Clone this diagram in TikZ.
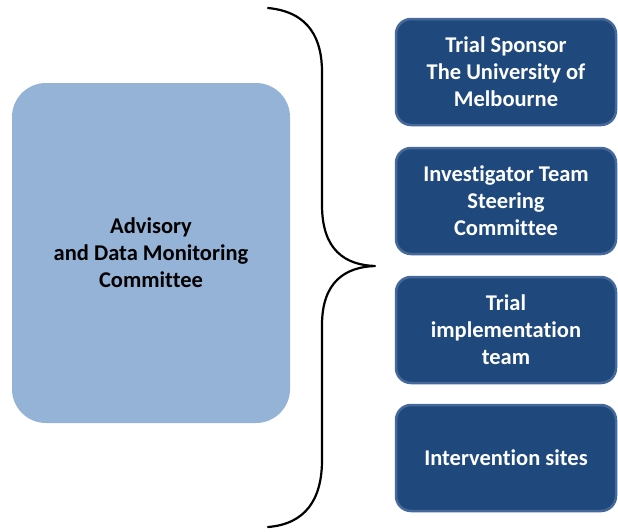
\documentclass[tikz,border=0pt]{standalone}
\usepackage{fontspec}
\setmainfont[Ligatures=NoCommon]{Carlito}
\definecolor{paleblue}{HTML}{95B3D7}
\definecolor{navy}{HTML}{1F497D}
\definecolor{navyedge}{HTML}{46699A}
\tikzset{
  roundbox/.style={rounded corners=34pt,fill=paleblue,minimum width=278pt,
    minimum height=340pt,align=center,font=\bfseries\fontsize{22.5}{27}\selectfont},
  teambox/.style={rounded corners=15pt,fill=navy,draw=navyedge,line width=2.5pt,
    minimum width=220pt,minimum height=106pt,align=center,text=white,
    font=\bfseries\fontsize{22.5}{27}\selectfont}
}
\begin{document}
\begin{tikzpicture}[x=1pt,y=-1pt]
  \useasboundingbox (0,0) rectangle (618,531);
  \node[roundbox] (advisory) at (151,253) {Advisory\\and Data Monitoring\\Committee};

  \node[teambox] (sponsor) at (506,72) {Trial Sponsor\\The University of\\Melbourne};
  \node[teambox] (steering) at (506,201) {Investigator Team\\Steering\\Committee};
  \node[teambox] (implementation) at (506,330) {Trial\\implementation\\team};
  \node[teambox] (sites) at (506,458) {Intervention sites};

  % the brace
  \coordinate (top) at (268,8);
  \coordinate (tip) at (375,266);
  \coordinate (bottom) at (268,527);
  \draw[line width=2.2pt,line cap=round,line join=round]
    (top) .. controls (310,12) and (322,40) .. (322,72)
    -- (322,205) .. controls (322,250) and (345,265) .. (tip)
    .. controls (345,267) and (322,282) .. (322,325)
    -- (322,460) .. controls (322,500) and (305,524) .. (bottom);
\end{tikzpicture}
\end{document}
